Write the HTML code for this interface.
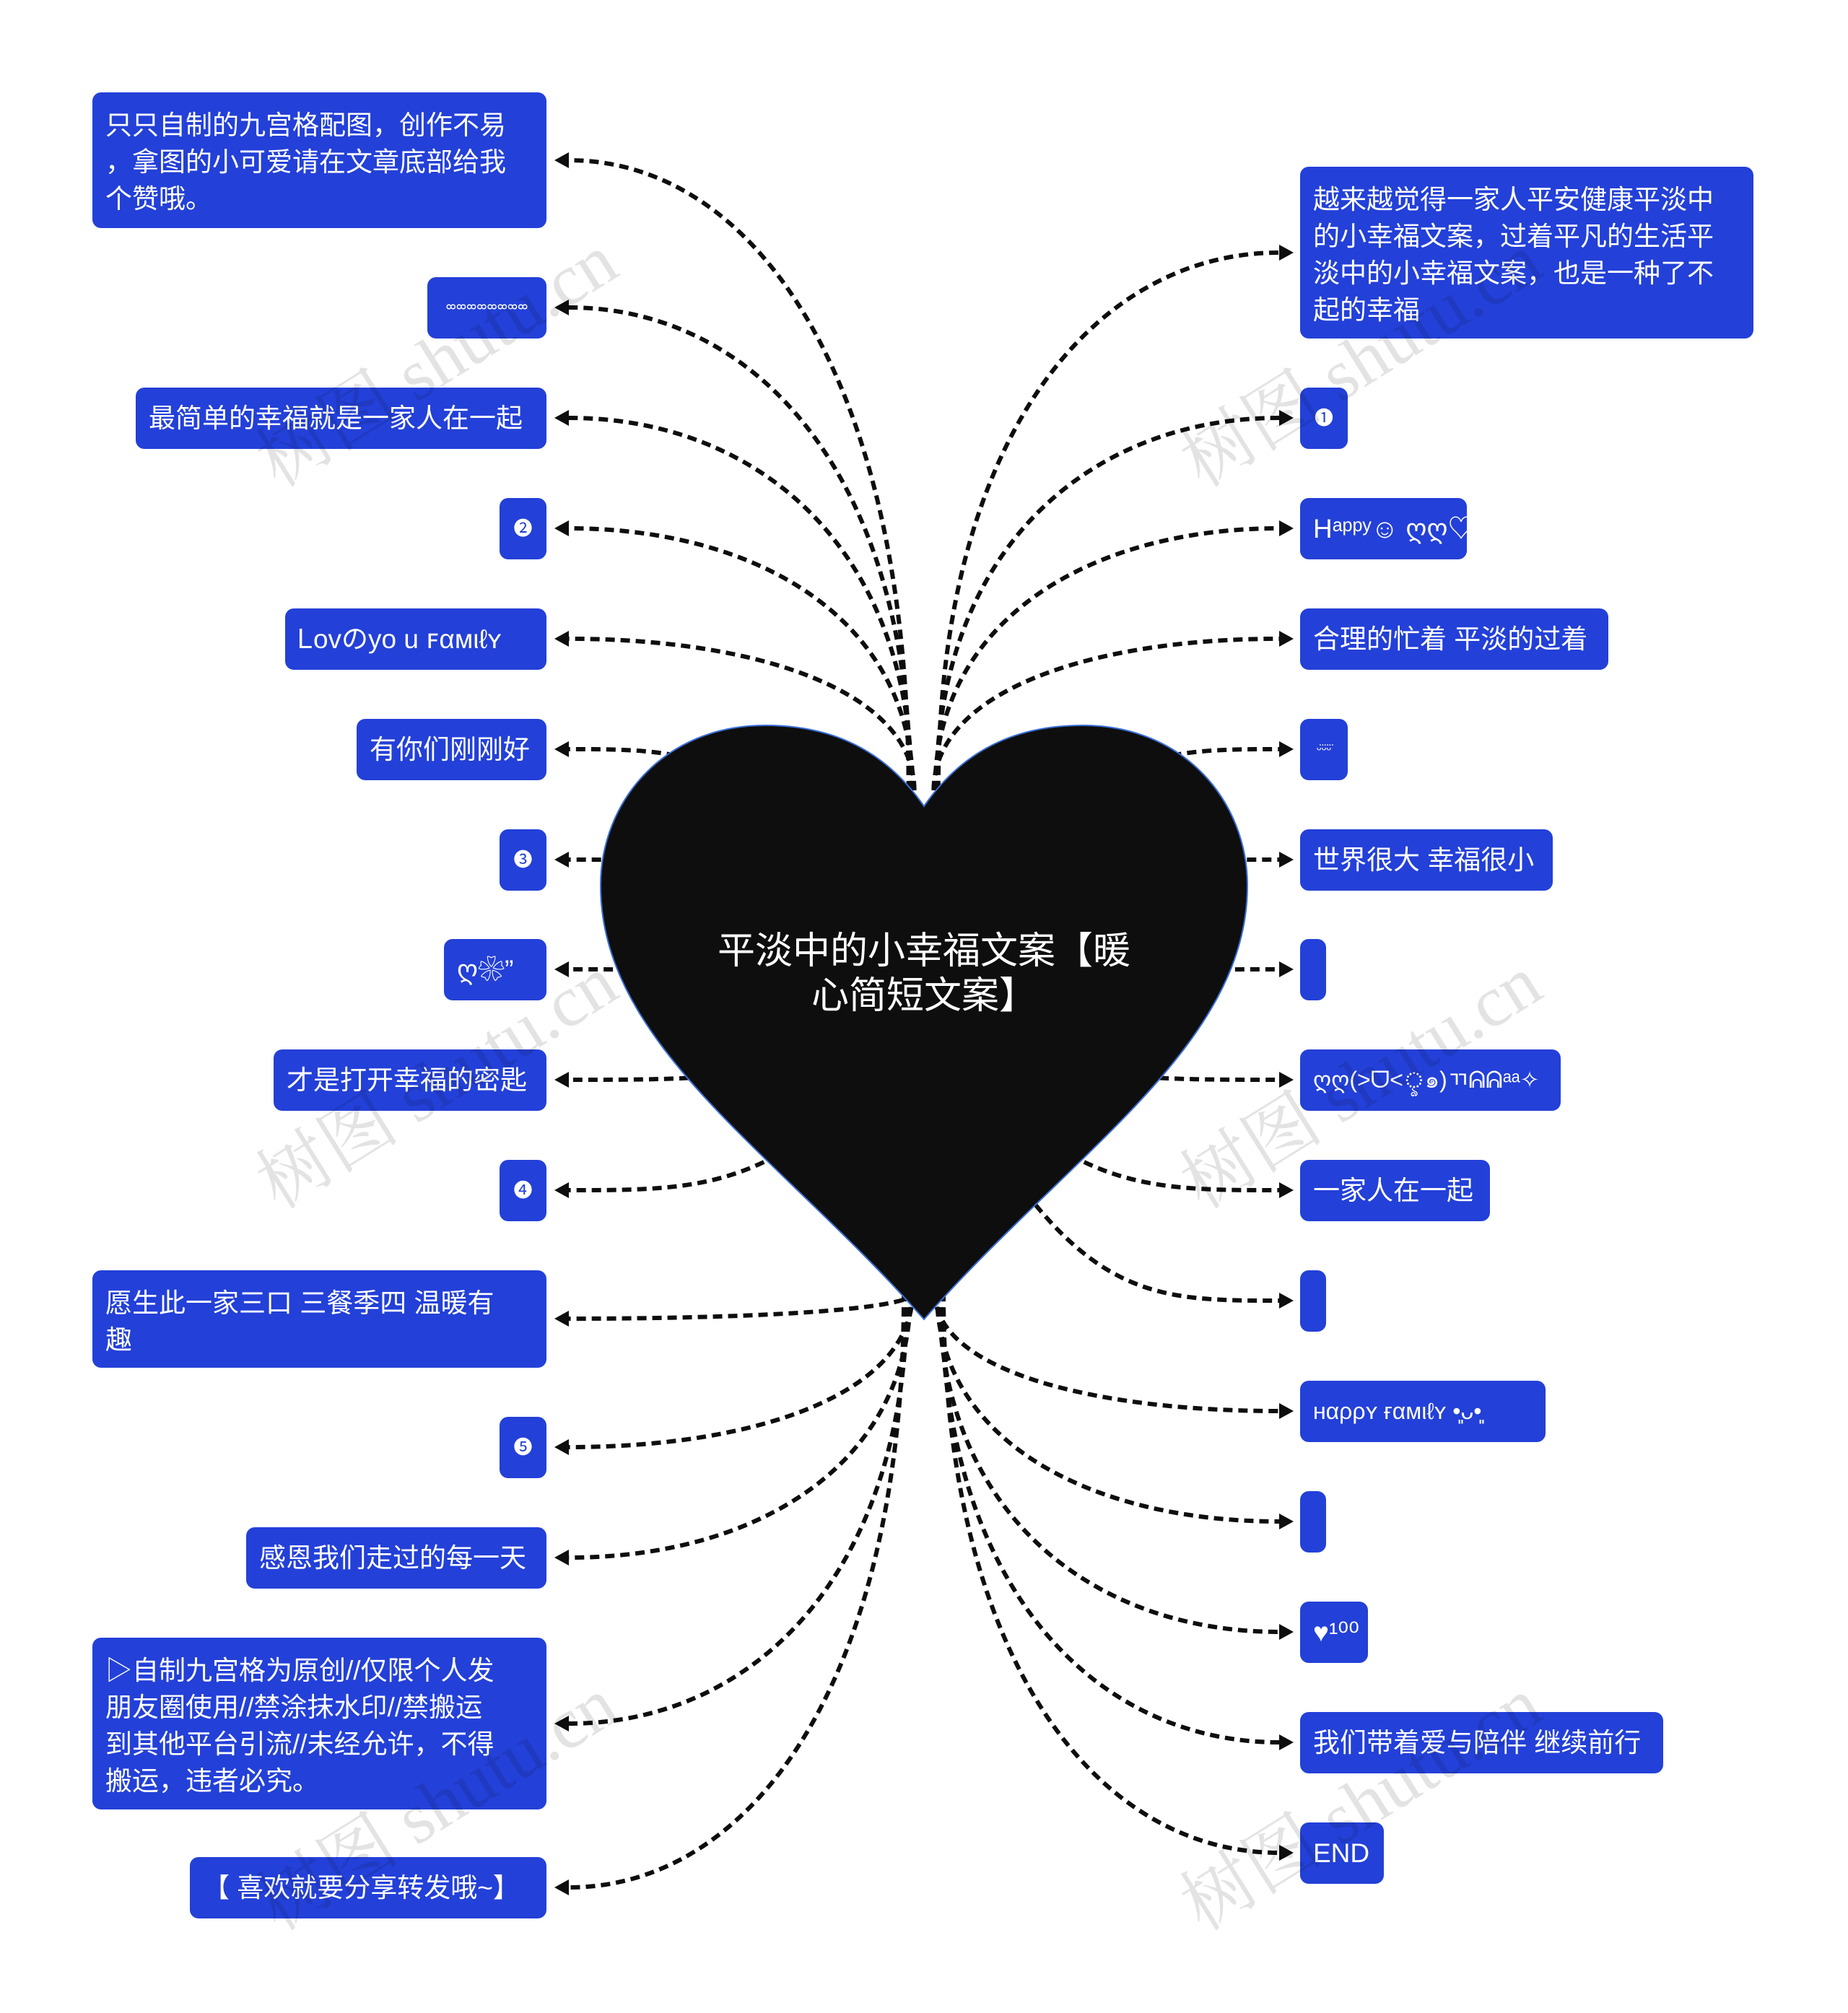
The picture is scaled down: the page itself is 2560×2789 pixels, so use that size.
<!DOCTYPE html>
<html><head><meta charset="utf-8">
<style>
html,body{margin:0;padding:0;background:#fff;}
body{width:2560px;height:2789px;position:relative;overflow:hidden;font-family:"Liberation Sans","Noto Sans CJK SC",sans-serif;}
.b{position:absolute;background:#2340d8;border-radius:12px;color:#fff;font-size:37px;line-height:51px;box-sizing:border-box;padding:0 18px;display:flex;align-items:center;white-space:nowrap;}
.m{align-items:flex-start;padding-top:20px;}
.wm{position:absolute;color:rgba(0,0,0,0.11);font-family:"Liberation Serif","Noto Serif CJK SC",serif;font-size:100px;transform:rotate(-32deg);white-space:nowrap;}
svg{position:absolute;left:0;top:0;}
.t{position:absolute;left:960px;top:1287px;width:640px;text-align:center;color:#fff;font-size:52px;line-height:62px;}
</style></head><body>
<svg id="s" width="2560" height="2789" viewBox="0 0 2560 2789"></svg>
<div class="t">平淡中的小幸福文案【暖<br>心简短文案】</div>

<div class="b m" style="left:128px;top:128px;width:629px;height:188px;">只只自制的九宫格配图，创作不易<br>，拿图的小可爱请在文章底部给我<br>个赞哦。</div>
<div class="b" style="left:592px;top:384px;width:165px;height:85px;font-size:18px;justify-content:center;">ᢁᢁᢁᢁᢁᢁᢁᢁ</div>
<div class="b" style="left:188px;top:537px;width:569px;height:85px;">最简单的幸福就是一家人在一起</div>
<div class="b" style="left:692px;top:690px;width:65px;height:85px;font-size:26px;justify-content:center;padding:0">❷</div>
<div class="b" style="left:395px;top:843px;width:362px;height:85px;">Ꮮovのyo u ꜰαмιℓʏ</div>
<div class="b" style="left:494px;top:996px;width:263px;height:85px;">有你们刚刚好</div>
<div class="b" style="left:692px;top:1149px;width:65px;height:85px;font-size:26px;justify-content:center;padding:0">❸</div>
<div class="b" style="left:615px;top:1301px;width:142px;height:85px;">ღ❀”</div>
<div class="b" style="left:379px;top:1454px;width:378px;height:85px;">才是打开幸福的密匙</div>
<div class="b" style="left:692px;top:1607px;width:65px;height:85px;font-size:26px;justify-content:center;padding:0">❹</div>
<div class="b m" style="left:128px;top:1760px;width:629px;height:135px;">愿生此一家三口 三餐季四 温暖有<br>趣</div>
<div class="b" style="left:692px;top:1963px;width:65px;height:85px;font-size:26px;justify-content:center;padding:0">❺</div>
<div class="b" style="left:341px;top:2116px;width:416px;height:85px;">感恩我们走过的每一天</div>
<div class="b m" style="left:128px;top:2269px;width:629px;height:238px;">▷自制九宫格为原创//仅限个人发<br>朋友圈使用//禁涂抹水印//禁搬运<br>到其他平台引流//未经允许，不得<br>搬运，违者必究。</div>
<div class="b" style="left:263px;top:2573px;width:494px;height:85px;">【 喜欢就要分享转发哦~】</div>

<div class="b m" style="left:1801px;top:231px;width:628px;height:238px;">越来越觉得一家人平安健康平淡中<br>的小幸福文案，过着平凡的生活平<br>淡中的小幸福文案，也是一种了不<br>起的幸福</div>
<div class="b" style="left:1801px;top:537px;width:66px;height:85px;font-size:26px;justify-content:center;padding:0">❶</div>
<div class="b" style="left:1801px;top:690px;width:231px;height:85px;">Hᵃᵖᵖʸ☺ ღღ♡</div>
<div class="b" style="left:1801px;top:843px;width:427px;height:85px;">合理的忙着 平淡的过着</div>
<div class="b" style="left:1801px;top:996px;width:66px;height:85px;font-size:18px;justify-content:center;padding:0">ᵕ̈ᵕ̈ᵕ̈</div>
<div class="b" style="left:1801px;top:1149px;width:350px;height:85px;">世界很大 幸福很小</div>
<div class="b" style="left:1801px;top:1301px;width:34px;height:85px;"></div>
<div class="b" style="left:1801px;top:1454px;width:361px;height:85px;font-size:32px;">ღღ(&gt;ᗜ&lt;ৢ๑)ㄲᕱᕱᵃᵃ✧</div>
<div class="b" style="left:1801px;top:1607px;width:263px;height:85px;">一家人在一起</div>
<div class="b" style="left:1801px;top:1760px;width:34px;height:85px;"></div>
<div class="b" style="left:1801px;top:1913px;width:340px;height:85px;font-size:32px;">ʜαρρʏ ғαмιℓʏ •͈ᴗ•͈</div>
<div class="b" style="left:1801px;top:2066px;width:34px;height:85px;"></div>
<div class="b" style="left:1801px;top:2219px;width:94px;height:85px;">♥¹⁰⁰</div>
<div class="b" style="left:1801px;top:2372px;width:503px;height:85px;">我们带着爱与陪伴 继续前行</div>
<div class="b" style="left:1801px;top:2525px;width:116px;height:85px;">END</div>

<div class="wm" style="left:320px;top:420px;">树图 shutu.cn</div>
<div class="wm" style="left:1600px;top:420px;">树图 shutu.cn</div>
<div class="wm" style="left:320px;top:1420px;">树图 shutu.cn</div>
<div class="wm" style="left:1600px;top:1420px;">树图 shutu.cn</div>
<div class="wm" style="left:320px;top:2420px;">树图 shutu.cn</div>
<div class="wm" style="left:1600px;top:2420px;">树图 shutu.cn</div>

<script>
var s=document.getElementById('s');
var L=[222,426,579,732,885,1038,1191,1343,1496,1649,1827,2005,2158,2388,2615];
var R=[350,579,732,885,1038,1191,1343,1496,1649,1802,1955,2108,2261,2414,2567];
var h='';
function conn(side,ty,i,n){
  var tip=side<0?768:1792;
  var base = side<0? tip+20 : tip-20;
  var x0,y0,d;
  if(ty<1000){x0=1280+side*(12+(1000-ty)*0.012);y0=1095;
    d='M'+x0+','+y0+' C'+x0+','+(ty+(y0-ty)*0.35)+' '+(x0+(base-x0)*0.45)+','+ty+' '+base+','+ty;}
  else if(ty>1820){x0=1280+side*(12+Math.abs(ty-1820)*0.02);y0=1790;
    d='M'+x0+','+y0+' C'+x0+','+(ty-(ty-y0)*0.35)+' '+(x0+(base-x0)*0.45)+','+ty+' '+base+','+ty;}
  else{x0=1280;y0=1420;
    d='M'+x0+','+y0+' C'+(x0+(base-x0)*0.4)+','+ty+' '+(x0+(base-x0)*0.6)+','+ty+' '+base+','+ty;}
  h+='<path d="'+d+'" fill="none" stroke="#0e0e0e" stroke-width="6" stroke-dasharray="13 8"/>';
  h+='<polygon points="'+tip+','+ty+' '+base+','+(ty-11)+' '+base+','+(ty+11)+'" fill="#0e0e0e"/>';
}
L.forEach(function(y,i){conn(-1,y,i,L.length);});
R.forEach(function(y,i){conn(1,y,i,R.length);});
h+='<path d="M1280,1117 C1220,1030 1140,1005 1060,1005 C920,1005 832,1110 832,1227 C832,1450 1080,1600 1280,1828 C1480,1600 1728,1450 1728,1227 C1728,1110 1640,1005 1500,1005 C1420,1005 1340,1030 1280,1117 Z" fill="#0e0e0e" stroke="#3a6fd8" stroke-width="2"/>';
s.innerHTML=h;
</script>
</body></html>
